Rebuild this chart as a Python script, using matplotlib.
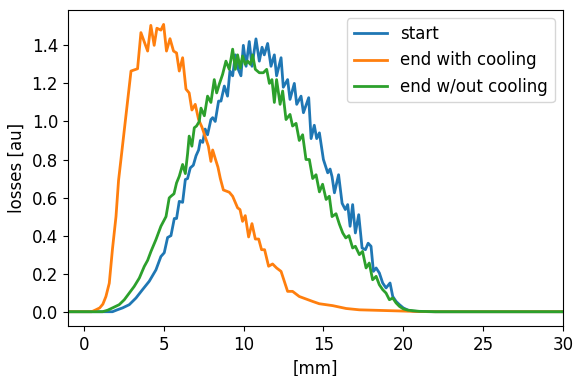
import matplotlib
matplotlib.use("Agg")
import matplotlib.pyplot as plt

# start
x_start = [-1, 1.5, 1.8, 2.1, 2.43, 2.85, 3.27, 3.68, 4.1, 4.52, 4.83, 5.04, 5.25, 5.46, 5.67, 5.81, 5.98,
           6.19, 6.36, 6.5, 6.67, 6.86, 7.03, 7.19, 7.3, 7.45, 7.6, 7.75, 7.96, 8.07, 8.23, 8.44, 8.59,
           8.8, 9.0, 9.15, 9.32, 9.49, 9.69, 9.84, 9.99, 10.16, 10.36, 10.53, 10.78, 10.99, 11.16, 11.3,
           11.51, 11.72, 11.93, 12.07, 12.35, 12.49, 12.76, 12.91, 13.18, 13.33, 13.6, 13.75, 14.08,
           14.23, 14.43, 14.58, 14.75, 15.0, 15.27, 15.42, 15.54, 15.69, 15.95, 16.17, 16.37, 16.52,
           16.67, 16.83, 17.0, 17.21, 17.42, 17.63, 17.8, 17.98, 18.13, 18.3, 18.5, 18.71, 18.92, 19.17,
           19.34, 19.55, 19.76, 20.0, 20.3, 20.6, 21, 22, 30]
y_start = [0, 0, 0.0, 0.01, 0.02, 0.037, 0.072, 0.116, 0.16, 0.22, 0.29, 0.31, 0.39, 0.40, 0.49, 0.49, 0.58,
           0.575, 0.695, 0.70, 0.756, 0.77, 0.82, 0.85, 0.90, 0.89, 0.96, 0.93, 1.01, 1.02, 1.0, 1.107, 1.107,
           1.186, 1.133, 1.265, 1.24, 1.35, 1.27, 1.24, 1.40, 1.29, 1.42, 1.29, 1.434, 1.317, 1.39, 1.35,
           1.41, 1.29, 1.35, 1.24, 1.335, 1.18, 1.22, 1.116, 1.20, 1.09, 1.133, 1.046, 1.125,
           0.91, 0.98, 0.91, 0.94, 0.80, 0.73, 0.75, 0.71, 0.625, 0.72, 0.57, 0.537, 0.563,
           0.449, 0.563, 0.414, 0.51, 0.335, 0.326, 0.36, 0.344, 0.212, 0.23, 0.204, 0.151, 0.125, 0.151,
           0.08, 0.054, 0.037, 0.02, 0.008, 0.003, 0.001, 0, 0]

# end with cooling
x_cool = [-1, 0.5, 0.76, 1.0, 1.2, 1.39, 1.6, 1.8, 2.02, 2.18, 2.33, 2.96, 3.37, 3.58, 4.0, 4.2, 4.41, 4.58,
          4.83, 5.0, 5.18, 5.4, 5.62, 5.81, 5.98, 6.19, 6.4, 6.6, 6.77, 6.98, 7.19, 7.4, 7.6, 7.8, 7.96,
          8.07, 8.25, 8.4, 8.55, 8.74, 9.11, 9.32, 9.63, 9.78, 9.94, 10.11, 10.32, 10.53, 10.74, 10.95,
          11.13, 11.32, 11.57, 11.82, 12.07, 12.35, 12.76, 13.07, 13.49, 13.91, 14.33, 14.74, 15.58,
          16.42, 17.25, 18.5, 19.76, 21, 22, 30]
y_cool = [0, 0, 0.01, 0.02, 0.04, 0.08, 0.15, 0.33, 0.50, 0.69, 0.80, 1.265, 1.277, 1.467, 1.37, 1.505, 1.40, 1.49,
          1.48, 1.51, 1.37, 1.435, 1.37, 1.36, 1.265, 1.335, 1.17, 1.15, 1.06, 1.09, 1.01, 0.97, 0.92, 0.87, 0.79,
          0.85, 0.80, 0.76, 0.70, 0.64, 0.628, 0.607, 0.546, 0.537, 0.475, 0.505, 0.393, 0.463, 0.382, 0.382,
          0.326, 0.326, 0.239, 0.251, 0.23, 0.212, 0.107, 0.107, 0.08, 0.067, 0.054, 0.042, 0.032,
          0.017, 0.01, 0.007, 0.004, 0.001, 0, 0]

# end w/out cooling
x_nocool = [-1, 1.18, 1.5, 1.8, 2.22, 2.54, 2.85, 3.16, 3.48, 3.79, 4.0, 4.21, 4.52, 4.83, 5.15, 5.35, 5.46,
            5.65, 5.81, 5.98, 6.19, 6.36, 6.5, 6.6, 6.77, 6.92, 7.06, 7.23, 7.34, 7.55, 7.75, 7.96, 8.17,
            8.32, 8.48, 8.69, 8.9, 9.11, 9.32, 9.49, 9.63, 9.8, 9.94, 10.11, 10.26, 10.43, 10.57, 10.74,
            10.99, 11.24, 11.45, 11.62, 11.78, 11.93, 12.07, 12.29, 12.45, 12.66, 12.91, 13.07, 13.29,
            13.49, 13.7, 13.91, 14.12, 14.33, 14.54, 14.75, 14.95, 15.17, 15.37, 15.54, 15.79, 16.0,
            16.21, 16.4, 16.6, 16.83, 17.0, 17.25, 17.45, 17.67, 17.87, 18.08, 18.3, 18.5, 18.71, 18.92,
            19.13, 19.34, 19.55, 19.76, 20.0, 20.3, 21, 22, 30]
y_nocool = [0, 0.0, 0.008, 0.02, 0.037, 0.063, 0.098, 0.133, 0.177, 0.238, 0.27, 0.317, 0.379, 0.449, 0.50, 0.598, 0.607,
            0.62, 0.677, 0.712, 0.774, 0.726, 0.83, 0.923, 0.87, 0.967, 0.976, 1.0, 1.07, 1.03, 1.133, 1.10, 1.22,
            1.15, 1.195, 1.247, 1.317, 1.274, 1.38, 1.274, 1.35, 1.28, 1.344, 1.30, 1.317, 1.30, 1.35, 1.274,
            1.256, 1.256, 1.274, 1.20, 1.22, 1.10, 1.22, 1.09, 1.16, 1.01, 1.037, 0.976, 0.99,
            0.90, 0.93, 0.80, 0.80, 0.70, 0.72, 0.63, 0.67, 0.59, 0.607, 0.50, 0.515, 0.46,
            0.414, 0.388, 0.40, 0.335, 0.344, 0.30, 0.317, 0.23, 0.256, 0.168, 0.186, 0.142, 0.116, 0.098,
            0.063, 0.072, 0.046, 0.028, 0.015, 0.008, 0.002, 0, 0]

labels = ["start", "end with cooling", "end w/out cooling"]

plt.rcParams['font.size'] = 12
fig = plt.figure(figsize=(5.74, 3.76), dpi=100)
ax = fig.add_axes([0.118, 0.133, 0.863, 0.840])
ax.plot(x_start, y_start, color='#1f77b4', lw=2, label=labels[0])
ax.plot(x_cool, y_cool, color='#ff7f0e', lw=2, label=labels[1])
ax.plot(x_nocool, y_nocool, color='#2ca02c', lw=2, label=labels[2])
ax.set_xlim(-1, 30)
ax.set_ylim(-0.075, 1.585)
ax.set_xlabel('[mm]')
ax.set_ylabel('losses [au]')
ax.legend(loc='upper right')
fig.savefig('out.png', dpi=100)
